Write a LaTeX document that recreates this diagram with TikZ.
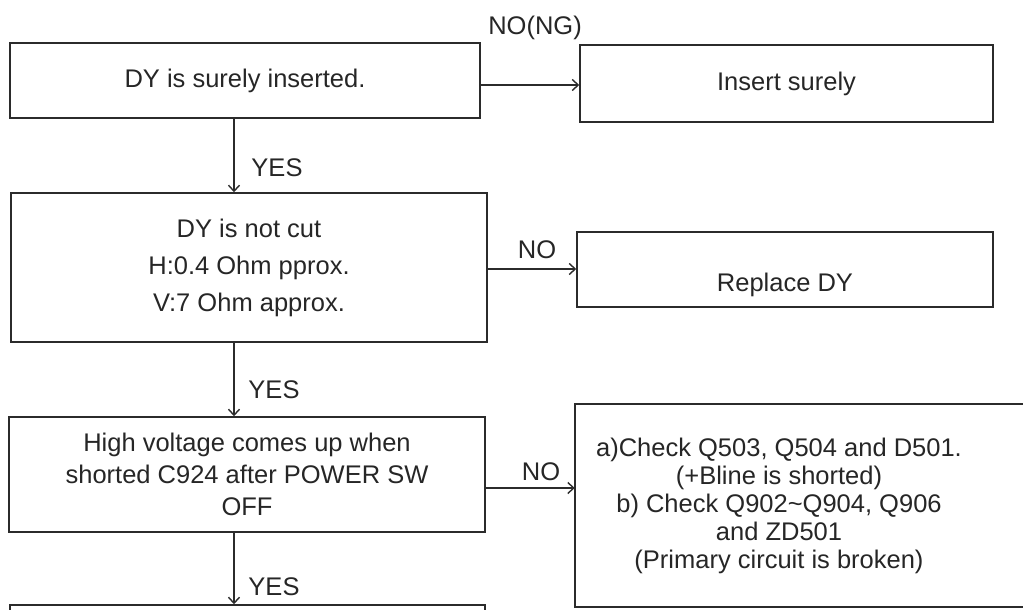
\documentclass[tikz,border=0pt]{standalone}
\usepackage{fontspec}
\setmainfont{Liberation Sans}
\usetikzlibrary{positioning,arrows.meta}
\definecolor{ink}{HTML}{262626}
\definecolor{edge}{HTML}{2B2B2B}

\begin{document}
\begin{tikzpicture}[x=1pt,y=1pt,
  every node/.style={font=\fontsize{25.5}{32}\selectfont,text=ink},
  box/.style={draw=edge,line width=1.5pt,inner sep=0pt,align=center},
  frame/.style={draw=edge,line width=1.5pt},
  arr/.style={draw=edge,line width=1.4pt,-{Straight Barb[length=6pt,width=11pt]}}]
  \useasboundingbox (0,0) rectangle (1023,-610);
  \clip (0,0) rectangle (1023,-610);
  \node[box,minimum width=470pt,minimum height=75pt] (ins) at (245,-80.5) {DY is surely inserted.};
  \node[box,minimum width=413pt,minimum height=77pt] (insfix) at (786.5,-83.5) {Insert surely};
  \node[box,minimum width=476pt,minimum height=149pt,font=\fontsize{25.5}{37}\selectfont] (cut) at (249,-267.5)
    {DY is not cut\\H:0.4 Ohm pprox.\\V:7 Ohm approx.};
  \node[box,minimum width=416pt,minimum height=75pt,text height=43pt,text depth=0pt] (rep) at (785,-269.5) {Replace DY};
  \node[box,minimum width=476pt,minimum height=115pt] (hv) at (247,-474.5)
    {High voltage comes up when\\shorted C924 after POWER SW\\OFF};
  \node[inner sep=0pt,align=center,minimum width=408pt,minimum height=203pt,font=\fontsize{25.5}{28}\selectfont] (chk) at (779,-505.5)
    {a)Check Q503, Q504 and D501.\\(+Bline is shorted)\\b) Check Q902\textasciitilde Q904, Q906\\and ZD501\\(Primary circuit is broken)};
  \draw[frame] (chk.north west) rectangle ([xshift=70pt]chk.south east);
  \node[box,minimum width=475pt,minimum height=85pt] (nxt) at (247.5,-647.5) {};
  \coordinate (col) at (234,0);
  \coordinate (r1) at (0,-85);
  \coordinate (r2) at (0,-269);
  \coordinate (r3) at (0,-488);
  \draw[arr] (ins.south -| col) -- (cut.north -| col);
  \draw[arr] (cut.south -| col) -- (hv.north -| col);
  \draw[arr] (hv.south -| col) -- (nxt.north -| col);
  \draw[arr] (ins.east |- r1) -- (insfix.west |- r1);
  \draw[arr] (cut.east |- r2) -- (rep.west |- r2);
  \draw[arr] (hv.east |- r3) -- (chk.west |- r3);
  \node (ng) at (535,-28) {NO(NG)};
  \node (no1) at (537,-250) {NO};
  \node (no2) at (541,-472) {NO};
  \node (yes1) at (277,-168) {YES};
  \node (yes2) at (274,-390) {YES};
  \node (yes3) at (274,-587) {YES};
\end{tikzpicture}
\end{document}
